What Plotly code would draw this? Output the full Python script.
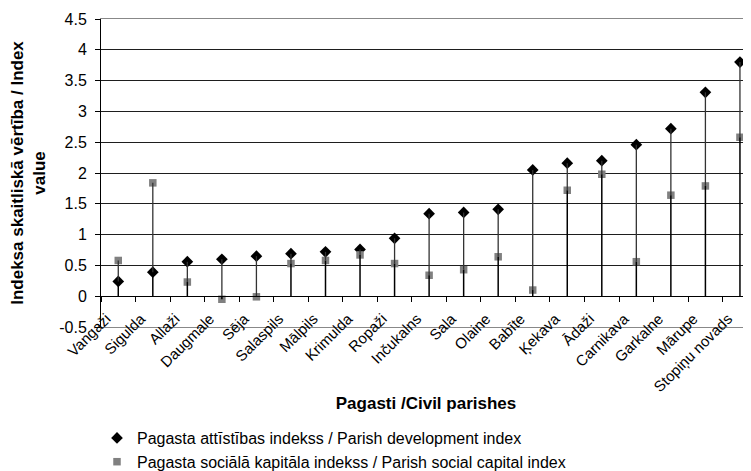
import plotly.graph_objects as go

parishes = ["Vangaži", "Sigulda", "Allaži", "Daugmale", "Sēja", "Salaspils", "Mālpils",
            "Krimulda", "Ropaži", "Inčukalns", "Sala", "Olaine", "Babīte", "Ķekava",
            "Ādaži", "Carnikava", "Garkalne", "Mārupe", "Stopiņu novads"]
development_index = [0.24, 0.39, 0.56, 0.60, 0.65, 0.69, 0.72, 0.76, 0.94, 1.34,
                     1.36, 1.41, 2.05, 2.16, 2.20, 2.46, 2.72, 3.31, 3.80]
social_capital_index = [0.58, 1.84, 0.23, -0.05, -0.01, 0.53, 0.58, 0.67, 0.53, 0.34,
                        0.43, 0.64, 0.10, 1.72, 1.98, 0.56, 1.64, 1.79, 2.58]
y_tick_values = [-0.5, 0, 0.5, 1, 1.5, 2, 2.5, 3, 3.5, 4, 4.5]
y_tick_labels = ["-0.5", "0", "0.5", "1", "1.5", "2", "2.5", "3", "3.5", "4", "4.5"]

name_dev = "Pagasta attīstības indekss / Parish development index"
name_soc = "Pagasta sociālā kapitāla indekss / Parish social capital index"
FONT = "Liberation Sans, Arial, sans-serif"

# page body has an 8px margin, so the figure is 8px smaller than the window
W, H = 743, 463
ML, MR, MT = 93, 0, 11
PH = 308
MB = H - MT - PH
PW = W - ML - MR

# drop lines / high-low lines built from the data
lx, ly, ux, uy = [], [], [], []
for c, d, s in zip(parishes, development_index, social_capital_index):
    bottom = min(0, d, s)
    mid = max(0, min(d, s))
    top = max(d, s)
    lx += [c, c, None]
    ly += [bottom, mid, None]
    ux += [c, c, None]
    uy += [mid, top, None]

fig = go.Figure()
fig.add_trace(go.Scatter(x=lx, y=ly, mode="lines", line=dict(color="#000000", width=1.5),
                         showlegend=False, hoverinfo="skip", xaxis="x2", yaxis="y"))
fig.add_trace(go.Scatter(x=ux, y=uy, mode="lines", line=dict(color="#333333", width=1.3),
                         showlegend=False, hoverinfo="skip", xaxis="x2", yaxis="y"))
fig.add_trace(go.Scatter(x=parishes, y=development_index, mode="markers", name=name_dev,
                         marker=dict(symbol="diamond", size=9, color="#000000"), cliponaxis=False))
fig.add_trace(go.Scatter(x=parishes, y=social_capital_index, mode="markers", name=name_soc,
                         marker=dict(symbol="square", size=7.5, color="#808080"), cliponaxis=False))

fig.update_layout(
    width=W, height=H,
    margin=dict(l=ML, r=MR, t=MT, b=MB, autoexpand=False),
    paper_bgcolor="white", plot_bgcolor="white",
    font=dict(family=FONT, size=14, color="#000000"),
    showlegend=True,
    legend=dict(x=(89 - ML) / PW, xanchor="left", y=(MT + PH - 413) / PH, yanchor="top",
                orientation="v", font=dict(size=16, family=FONT), tracegroupgap=0,
                bgcolor="rgba(0,0,0,0)"),
    xaxis=dict(type="category", categoryorder="array", categoryarray=parishes,
               range=[-0.5, 18.32], showticklabels=False, ticks="", showgrid=False,
               showline=True, linecolor="#888888", linewidth=1, mirror=True, zeroline=False,
               automargin=False),
    xaxis2=dict(type="category", categoryorder="array", categoryarray=parishes,
                overlaying="x", matches="x", anchor="free", position=0.1,
                showline=True, linecolor="#000000", linewidth=1,
                ticks="outside", ticklen=5, tickcolor="#000000", tickson="boundaries",
                tickangle=-45, tickfont=dict(size=15, family=FONT),
                ticklabelstandoff=7, ticklabelshift=-12,
                showgrid=False, zeroline=False, automargin=False,
                title=dict(text="<b>Pagasti /Civil parishes</b>", font=dict(size=17, family=FONT),
                           standoff=2)),
    yaxis=dict(range=[-0.5, 4.5], tickvals=y_tick_values, ticktext=y_tick_labels,
               tickfont=dict(size=16, family=FONT),
               showline=True, linecolor="#000000", linewidth=1,
               ticks="outside", ticklen=5, tickcolor="#000000", ticklabelstandoff=5,
               showgrid=True, gridcolor="#1e1e1e", gridwidth=1, zeroline=False,
               automargin=False,
               title=dict(text="<b>Indeksa skaitliskā vērtība / Index<br>value</b>",
                          font=dict(size=17, family=FONT), standoff=17)),
)

fig.write_html("out.html")
